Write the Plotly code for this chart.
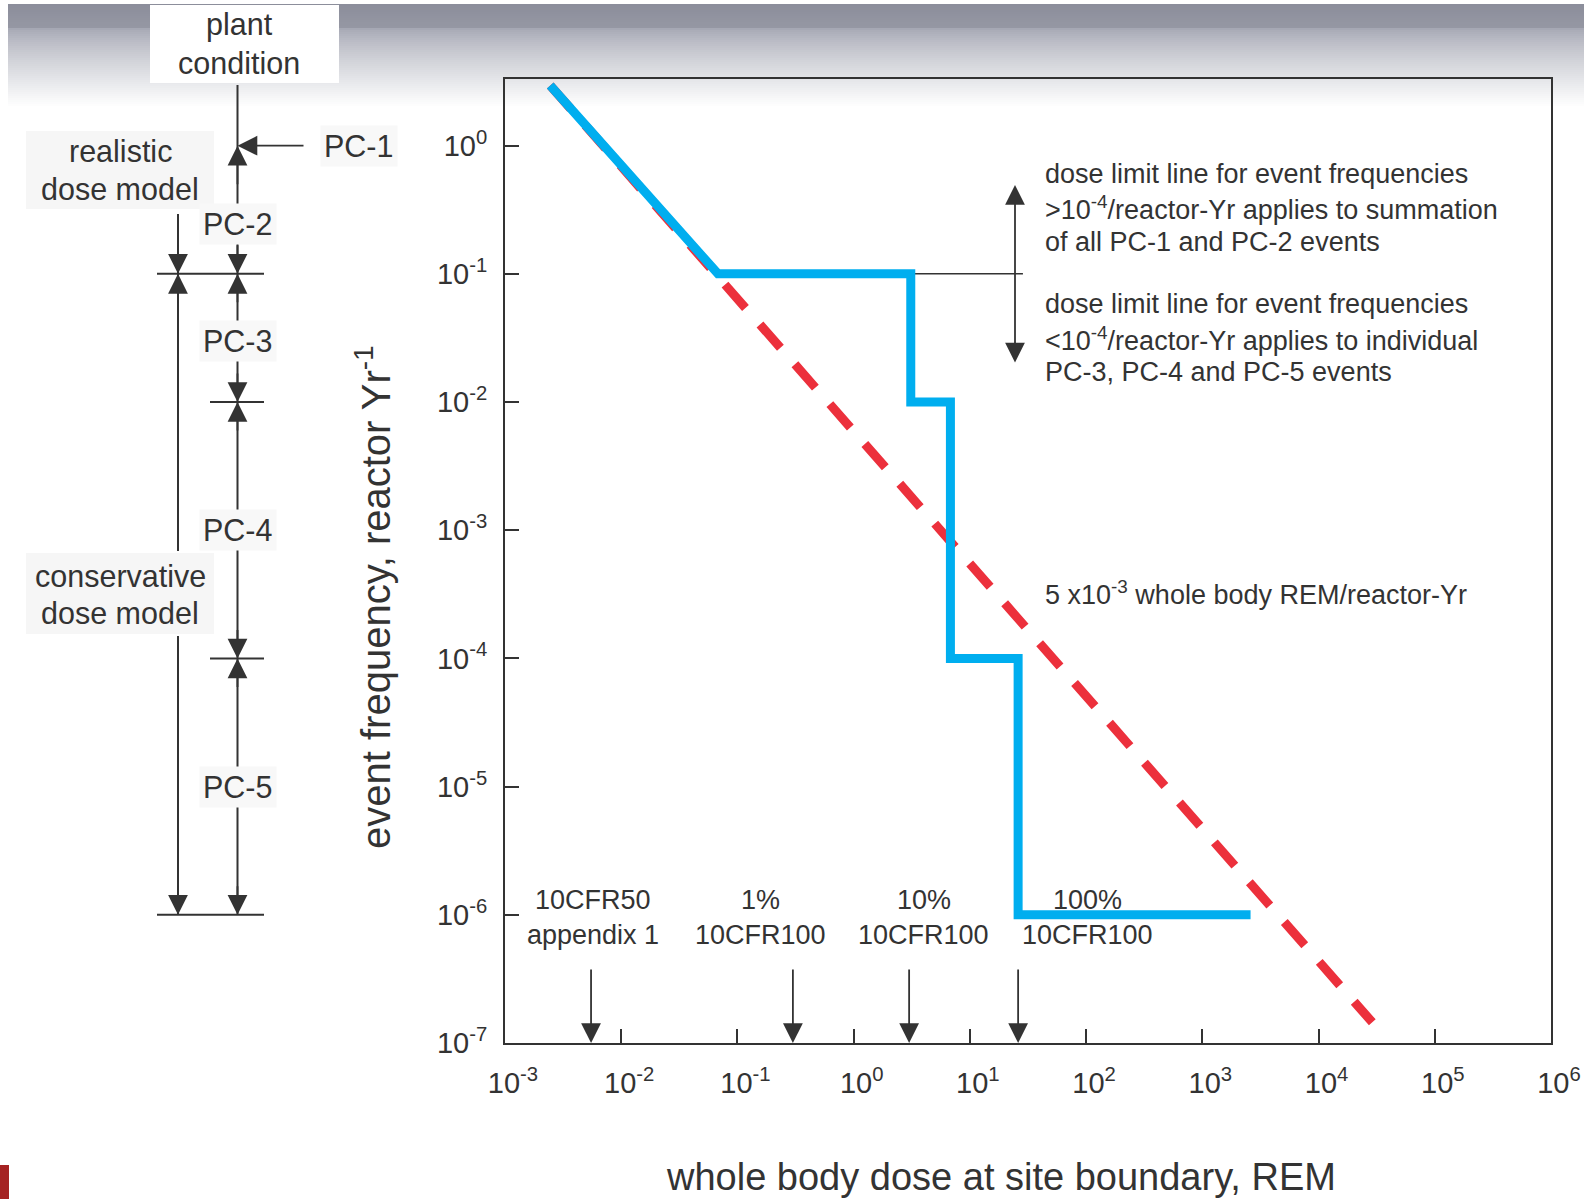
import math
import plotly.graph_objects as go

# ---------------- data ----------------
blue_dose = [0.00245, 0.068, 3.1, 3.1, 6.8, 6.8, 26, 26, 2600]
blue_freq = [2.95, 0.1, 0.1, 0.01, 0.01, 1e-4, 1e-4, 1e-6, 1e-6]
red_dose = [0.00245, 29000]
red_freq = [2.95, 1.45e-7]
limit_dose = [0.068, 28.6]
limit_freq = [0.1, 0.1]
reg_dose = [0.0055, 0.3, 3.0, 26]
reg_line1 = ["10CFR50", "1%", "10%", "100%"]
reg_line2 = ["appendix 1", "10CFR100", "10CFR100", "10CFR100"]
reg_label_dose = [0.0057, 0.158, 4.0, 102]
pc_bounds = [1, 0.1, 0.01, 1e-4, 1e-6]
pc_labels = ["PC-2", "PC-3", "PC-4", "PC-5"]
pc_label_freq = [0.244, 0.03, 1e-3, 1e-5]
x_tickvals = [1e-3, 1e-2, 1e-1, 1e0, 1e1, 1e2, 1e3, 1e4, 1e5, 1e6]
x_ticktext = ["10<sup>-3</sup>", "10<sup>-2</sup>", "10<sup>-1</sup>", "10<sup>0</sup>", "10<sup>1</sup>",
              "10<sup>2</sup>", "10<sup>3</sup>", "10<sup>4</sup>", "10<sup>5</sup>", "10<sup>6</sup>"]
y_tickvals = [1e-7, 1e-6, 1e-5, 1e-4, 1e-3, 1e-2, 1e-1, 1e0]
y_ticktext = ["10<sup>-7</sup>", "10<sup>-6</sup>", "10<sup>-5</sup>", "10<sup>-4</sup>", "10<sup>-3</sup>",
              "10<sup>-2</sup>", "10<sup>-1</sup>", "10<sup>0</sup>"]
upper_text = ["dose limit line for event frequencies",
              ">10<sup>-4</sup>/reactor-Yr applies to summation",
              "of all PC-1 and PC-2 events"]
lower_text = ["dose limit line for event frequencies",
              "<10<sup>-4</sup>/reactor-Yr applies to individual",
              "PC-3, PC-4 and PC-5 events"]
red_label = "5 x10<sup>-3</sup> whole body REM/reactor-Yr"

# ---------------- layout helpers ----------------
W, H = 1584, 1199
L, R, T, B = 505, 1551, 79, 1043
YR = [-7, 0.52]
XR = [-3, 6]
FONT = "Liberation Sans, Arial, sans-serif"
TXT = "#333333"


def pxx(px):
    return (px - L) / (R - L)


def pyy(py):
    return (B - py) / (B - T)


def logy(py):
    return YR[0] + (B - py) / (B - T) * (YR[1] - YR[0])


def logx(px):
    return XR[0] + (px - L) / (R - L) * (XR[1] - XR[0])


def ypix(v):
    return B - (math.log10(v) - YR[0]) / (YR[1] - YR[0]) * (B - T)


fig = go.Figure()
fig.add_trace(go.Scatter(x=red_dose, y=red_freq, mode="lines",
                         line=dict(color="#EC303C", width=9, dash="31px,22px"), hoverinfo="skip"))
fig.add_trace(go.Scatter(x=limit_dose, y=limit_freq, mode="lines",
                         line=dict(color=TXT, width=1.5), hoverinfo="skip"))
fig.add_trace(go.Scatter(x=blue_dose, y=blue_freq, mode="lines",
                         line=dict(color="#00AEEF", width=9), hoverinfo="skip"))

shapes = []


def lerp(c1, c2, t):
    return "rgb(%d,%d,%d)" % tuple(round(a + (b - a) * t) for a, b in zip(c1, c2))


# top gradient band
y = 4
while y < 28:
    t = (y - 4) / 24
    shapes.append(dict(type="rect", xref="paper", yref="paper", x0=pxx(8), x1=pxx(W), y0=pyy(y + 2), y1=pyy(y),
                       fillcolor=lerp((140, 142, 155), (150, 152, 164), t), line_width=0, layer="below"))
    y += 2
y = 28
while y < 106:
    t = (y - 28) / 78
    shapes.append(dict(type="rect", xref="paper", yref="paper", x0=pxx(8), x1=pxx(W), y0=pyy(y + 2), y1=pyy(y),
                       fillcolor=lerp((166, 168, 180), (255, 255, 255), t ** 0.8), line_width=0, layer="below"))
    y += 2
# plant condition box
shapes.append(dict(type="rect", xref="paper", yref="paper", x0=pxx(150), x1=pxx(339), y0=pyy(83), y1=pyy(5),
                   fillcolor="white", line_width=0, layer="below"))
# faint boxes for dose model labels
for (ya, yb) in [(131, 209), (553, 634)]:
    shapes.append(dict(type="rect", xref="paper", yref="paper", x0=pxx(26), x1=pxx(214), y0=pyy(yb), y1=pyy(ya),
                       fillcolor="#f6f6f6", line_width=0, layer="below"))
# red mark bottom-left
shapes.append(dict(type="rect", xref="paper", yref="paper", x0=pxx(0), x1=pxx(9), y0=pyy(1199), y1=pyy(1165),
                   fillcolor="#A52222", line_width=0, layer="below"))

XM, XL = 237.5, 178
LC = dict(color=TXT, width=2)
shapes.append(dict(type="line", xref="paper", yref="paper", x0=pxx(XM), x1=pxx(XM), y0=pyy(85),
                   y1=pyy(ypix(pc_bounds[-1])), line=LC))
shapes.append(dict(type="line", xref="paper", yref="paper", x0=pxx(XL), x1=pxx(XL), y0=pyy(214),
                   y1=pyy(551), line=LC))
shapes.append(dict(type="line", xref="paper", yref="paper", x0=pxx(XL), x1=pxx(XL), y0=pyy(636),
                   y1=pyy(ypix(pc_bounds[-1])), line=LC))
for v, x0 in [(pc_bounds[1], 157), (pc_bounds[2], 210), (pc_bounds[3], 210), (pc_bounds[4], 157)]:
    shapes.append(dict(type="line", xref="paper", yref="paper", x0=pxx(x0), x1=pxx(264),
                       y0=pyy(ypix(v)), y1=pyy(ypix(v)), line=LC))

ann = []
AH = dict(showarrow=True, arrowhead=2, arrowsize=2.2, arrowwidth=1.8, arrowcolor=TXT, standoff=0, text="")


def arrow(xp, yv, ax, ay, xref="paper"):
    d = dict(AH)
    d.update(x=xp, y=math.log10(yv), xref=xref, yref="y", ax=ax, ay=ay)
    ann.append(d)


# diagram arrows
arrow(pxx(XM), pc_bounds[0], 305 - XM, 0)
arrow(pxx(XM), pc_bounds[0], 0, 40)
for v in pc_bounds[1:]:
    arrow(pxx(XM), v, 0, -30)
for v in pc_bounds[1:4]:
    arrow(pxx(XM), v, 0, 30)
arrow(pxx(XL), pc_bounds[1], 0, -30)
arrow(pxx(XL), pc_bounds[1], 0, 30)
arrow(pxx(XL), pc_bounds[4], 0, -30)

FD = dict(family=FONT, size=30.5, color=TXT)
for lab, v in zip(pc_labels, pc_label_freq):
    ann.append(dict(x=pxx(XM), y=math.log10(v), xref="paper", yref="y", text=lab, showarrow=False,
                    xanchor="center", yanchor="middle", font=FD, bgcolor="#f8f8f8", borderpad=3))
ann.append(dict(x=pxx(320), y=0, xref="paper", yref="y", text="PC-1", showarrow=False, xanchor="left",
                yanchor="middle", font=FD, bgcolor="#f8f8f8", borderpad=3))
for txt, py in [("plant", 25), ("condition", 62.5), ("realistic", 151.5), ("dose model", 189),
                ("conservative", 576), ("dose model", 613)]:
    xc = 239 if py < 70 else 120
    ann.append(dict(x=pxx(xc), y=pyy(py), xref="paper", yref="paper", text=txt, showarrow=False,
                    font=FD, xanchor="center", yanchor="middle"))

# in-plot text
FP = dict(family=FONT, size=27, color=TXT)
for txt, py in zip(upper_text + lower_text, [174, 208, 241.5, 304, 338.5, 372]):
    ann.append(dict(x=logx(1043), y=logy(py), xref="x", yref="y", text=txt, showarrow=False,
                    xanchor="left", yanchor="middle", font=FP))
ann.append(dict(x=logx(1043), y=logy(593), xref="x", yref="y", text=red_label, showarrow=False,
                xanchor="left", yanchor="middle", font=FP))
d = dict(AH)
d.update(x=logx(1015), y=logy(185), ax=logx(1015), ay=logy(364), xref="x", yref="y", axref="x", ayref="y",
         arrowside="end+start")
ann.append(d)
for v in reg_dose:
    arrow(math.log10(v), 1e-7, 0, -75, xref="x")
for t1, t2, v in zip(reg_line1, reg_line2, reg_label_dose):
    ann.append(dict(x=math.log10(v), y=logy(900), xref="x", yref="y", text=t1, showarrow=False,
                    xanchor="center", yanchor="middle", font=FP))
    ann.append(dict(x=math.log10(v), y=logy(934.5), xref="x", yref="y", text=t2, showarrow=False,
                    xanchor="center", yanchor="middle", font=FP))

# axis titles
ann.append(dict(x=pxx(373), y=pyy(597), xref="paper", yref="paper", text="event frequency, reactor Yr<sup>-1</sup>",
                textangle=-90, showarrow=False, xanchor="center", yanchor="middle",
                font=dict(family=FONT, size=40, color=TXT)))
ann.append(dict(x=pxx(1001), y=pyy(1177), xref="paper", yref="paper", text="whole body dose at site boundary, REM",
                showarrow=False, xanchor="center", yanchor="middle", font=dict(family=FONT, size=38, color=TXT)))

AX = dict(showline=True, linewidth=2, linecolor=TXT, mirror=True, ticks="inside", ticklen=14, tickwidth=2,
          tickcolor=TXT, showgrid=False, zeroline=False, automargin=False,
          tickfont=dict(family=FONT, size=29, color=TXT))
fig.update_layout(
    width=W, height=H, margin=dict(l=L, r=W - R, t=T, b=H - B, autoexpand=False),
    paper_bgcolor="white", plot_bgcolor="rgba(0,0,0,0)", showlegend=False,
    xaxis=dict(type="log", range=XR, tickmode="array", tickvals=x_tickvals, ticktext=x_ticktext,
               ticklabelstandoff=13, ticklabelshift=8, **AX),
    yaxis=dict(type="log", range=YR, tickmode="array", tickvals=y_tickvals, ticktext=y_ticktext,
               ticklabelstandoff=10, **AX),
    shapes=shapes, annotations=ann,
)
fig.write_html("out.html", config={"displayModeBar": False, "displaylogo": False},
               post_script="document.body.style.margin='0';document.body.style.overflow='hidden';")
